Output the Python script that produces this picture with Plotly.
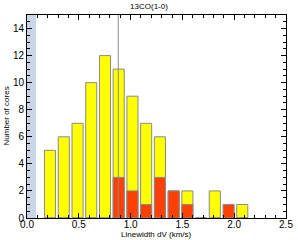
import plotly.graph_objects as go

# Data
bin_centers = [0.222, 0.355, 0.488, 0.620, 0.753, 0.885, 1.018, 1.150, 1.283,
               1.416, 1.548, 1.681, 1.813, 1.946, 2.078]
all_cores = [5, 6, 7, 10, 12, 11, 9, 7, 6, 2, 2, 0, 2, 0, 1]
sub_cores = [0, 0, 0, 0, 0, 3, 2, 1, 3, 2, 1, 0, 0, 1, 0]
vline_x = 0.881
shade_x = [0.0, 0.087]
x_ticks = [0.0, 0.5, 1.0, 1.5, 2.0, 2.5]
y_ticks = [0, 2, 4, 6, 8, 10, 12, 14]

bar_w = 0.107
fig = go.Figure()
fig.add_bar(x=bin_centers, y=all_cores, width=bar_w,
            marker=dict(color="#ffff00", line=dict(color="#8a8a8a", width=1)))
fig.add_bar(x=bin_centers, y=sub_cores, width=bar_w,
            marker=dict(color="#ff4000", line=dict(color="#8a8a8a", width=1)))

fig.add_shape(type="rect", xref="x", yref="paper", x0=shade_x[0], x1=shade_x[1],
              y0=0, y1=1, fillcolor="#c8d6e8", line_width=0, layer="below")
fig.add_shape(type="line", xref="x", yref="paper", x0=vline_x, x1=vline_x,
              y0=0, y1=1, line=dict(color="#8c8c8c", width=1), layer="above")

ff = "Liberation Sans, Arial, sans-serif"
font = dict(family=ff, color="black", size=10)
fig.add_annotation(text="Linewidth dV (km/s)", xref="paper", yref="paper",
                   x=0.5, y=0, yshift=-16, xanchor="center", yanchor="middle",
                   showarrow=False, font=dict(size=8, family=ff, color="black"))
fig.add_annotation(text="Number of cores", xref="paper", yref="paper",
                   x=0, y=0.5, xshift=-21, xanchor="center", yanchor="middle",
                   textangle=-90, showarrow=False,
                   font=dict(size=8, family=ff, color="black"))
fig.update_layout(
    width=298, height=240,
    margin=dict(l=27, r=12, t=15, b=22),
    barmode="overlay", showlegend=False,
    plot_bgcolor="white", paper_bgcolor="white",
    font=font,
    title=dict(text="13CO(1-0)", x=0.5, xanchor="center", y=0.985, yanchor="top",
               font=dict(size=8, family=ff, color="black")),
    xaxis=dict(range=[0, 2.5], tickvals=x_ticks, tickformat=".1f",
               ticks="inside", ticklen=5, tickcolor="black",
               minor=dict(dtick=0.1, ticks="inside", ticklen=3, tickcolor="black"),
               showline=True, linecolor="black", linewidth=1, mirror="ticks",
               showgrid=False, zeroline=False, automargin=False,
               ticklabelstandoff=-3,
               tickfont=dict(size=10)),
    yaxis=dict(range=[0, 15], tickvals=y_ticks,
               ticks="inside", ticklen=5, tickcolor="black",
               minor=dict(dtick=0.5, ticks="inside", ticklen=3, tickcolor="black"),
               showline=True, linecolor="black", linewidth=1, mirror="ticks",
               showgrid=False, zeroline=False, automargin=False,
               tickfont=dict(size=10)),
)
fig.write_html("out.html", config={"displayModeBar": False},
               post_script="document.body.style.margin='0';document.body.style.overflow='hidden';")
